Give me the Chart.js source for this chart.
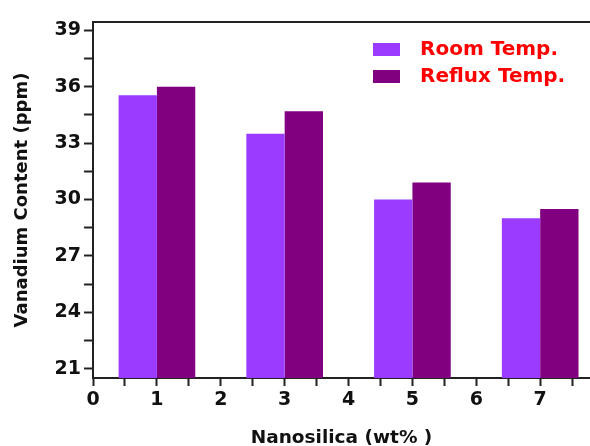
<!DOCTYPE html>
<html>
<head>
<meta charset="utf-8">
<script src="https://cdn.jsdelivr.net/npm/chart.js@4.4.0/dist/chart.umd.min.js"></script>
<style>
  html, body { margin: 0; padding: 0; background: #fff; overflow: hidden; }
  #wrap { width: 590px; height: 446px; overflow: hidden; }
</style>
</head>
<body>
<div id="wrap"><canvas id="chart" width="590" height="446"></canvas></div>
<script>
var nanosilica = [1, 3, 5, 7];
var roomTemp = [35.55, 33.5, 30.0, 29.0];
var refluxTemp = [36.0, 34.7, 30.9, 29.5];
var seriesNames = ['Room Temp.', 'Reflux Temp.'];
var yTickLabels = [21, 24, 27, 30, 33, 36, 39];
var xTickLabels = [0, 1, 2, 3, 4, 5, 6, 7];

function toPoints(values) {
  var pts = [];
  for (var i = 0; i < nanosilica.length; i++) {
    pts.push({ x: nanosilica[i], y: values[i] });
  }
  return pts;
}

var family = '"DejaVu Sans", Verdana, sans-serif';

// legend drawn inside the plot, upper right
var innerLegend = {
  id: 'innerLegend',
  afterDraw: function (chart) {
    var ctx = chart.ctx;
    var sets = chart.data.datasets;
    ctx.save();
    ctx.font = 'bold 20px ' + family;
    ctx.textBaseline = 'middle';
    for (var i = 0; i < sets.length; i++) {
      var y = 49 + i * 27;
      ctx.fillStyle = sets[i].backgroundColor;
      ctx.fillRect(373, y - 6, 27, 13);
      ctx.fillStyle = '#ff0000';
      ctx.fillText(sets[i].label, 420, y + 1);
    }
    ctx.restore();
  }
};

new Chart(document.getElementById('chart').getContext('2d'), {
  type: 'bar',
  data: {
    datasets: [
      { label: seriesNames[0], data: toPoints(roomTemp), backgroundColor: '#9b3bff' },
      { label: seriesNames[1], data: toPoints(refluxTemp), backgroundColor: '#800080' }
    ]
  },
  options: {
    responsive: false,
    animation: false,
    // min sample spacing is the 0.5 minor tick, so 2.4 gives a 1.2 wide pair
    categoryPercentage: 2.4,
    barPercentage: 1.0,
    layout: { padding: { left: 12, right: 0, top: 14, bottom: -3 } },
    plugins: { legend: { display: false }, tooltip: { enabled: false } },
    scales: {
      x: {
        type: 'linear',
        position: 'bottom',
        min: 0,
        max: 7.78,
        offset: false,
        border: { display: true, color: '#222', width: 2 },
        grid: { display: true, offset: false, drawOnChartArea: false, tickLength: 8, tickColor: '#222', tickWidth: 2 },
        ticks: {
          stepSize: 0.5,
          includeBounds: false,
          padding: 3,
          color: '#111',
          font: { family: family, weight: 'bold', size: 19 },
          callback: function (v) { return xTickLabels.indexOf(v) >= 0 ? String(v) : ''; }
        },
        title: {
          display: true,
          text: 'Nanosilica (wt% )',
          color: '#111',
          font: { family: family, weight: 'bold', size: 18.5 },
          padding: { top: 12, bottom: 0 }
        }
      },
      xTop: {
        type: 'linear',
        position: 'top',
        min: 0,
        max: 7.78,
        offset: false,
        border: { display: true, color: '#222', width: 2 },
        grid: { display: false },
        ticks: { display: false }
      },
      y: {
        min: 20.5,
        max: 39.45,
        border: { display: true, color: '#222', width: 2 },
        grid: { display: true, drawOnChartArea: false, tickLength: 9, tickColor: '#222', tickWidth: 2 },
        ticks: {
          stepSize: 1.5,
          includeBounds: false,
          padding: 3,
          color: '#111',
          font: { family: family, weight: 'bold', size: 19 },
          callback: function (v) { return yTickLabels.indexOf(v) >= 0 ? String(v) : ''; }
        },
        title: {
          display: true,
          text: 'Vanadium Content (ppm)',
          color: '#111',
          font: { family: family, weight: 'bold', size: 18 },
          padding: { top: 0, bottom: 18 }
        }
      }
    }
  },
  plugins: [innerLegend]
});
</script>
</body>
</html>
